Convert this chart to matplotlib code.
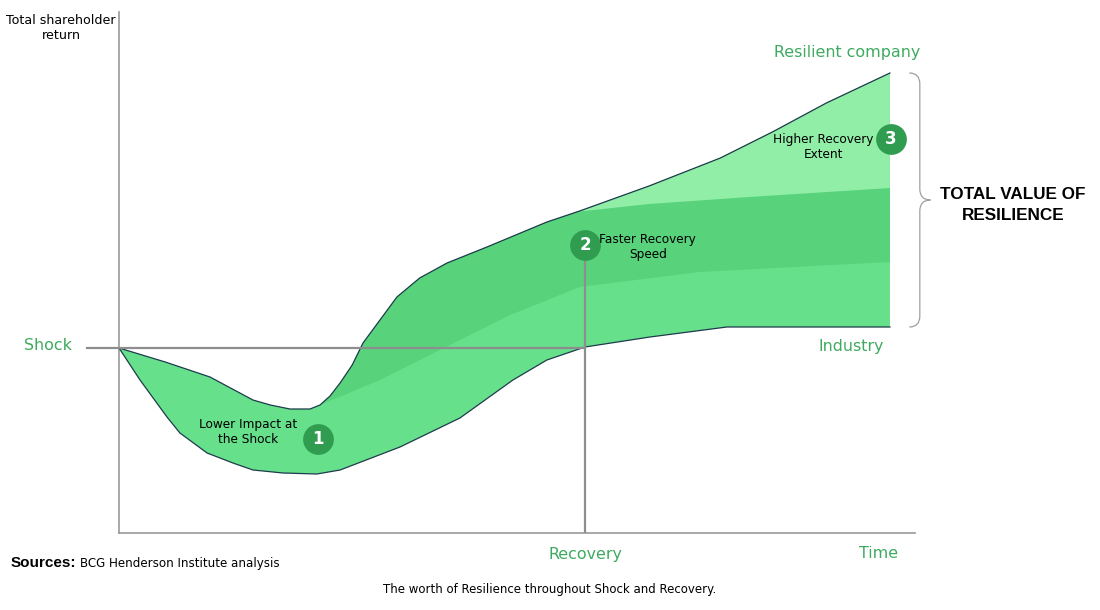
import numpy as np
import matplotlib
matplotlib.use('Agg')
import matplotlib.pyplot as plt
from matplotlib.path import Path
from matplotlib.patches import PathPatch

plt.rcParams['font.family'] = ['DejaVu Sans']

# time since shock (arbitrary units) vs total shareholder return index (shock = 100)
res_t = [0, 2.4, 4.72, 6.95, 7.85, 8.87, 9.91, 10.43, 10.95, 11.47, 12.1, 12.66,
         13.54, 14.42, 15.6, 17.02, 19.09, 22.2, 23.9, 27.5, 31.2, 33.9, 36.7, 40]
res_v = [100, 97.2, 94.2, 89.6, 88.6, 87.8, 87.8, 88.6, 90.4, 93.0, 96.6, 101.0,
         105.6, 110.2, 114.0, 117.0, 120.2, 125.2, 127.4, 132.4, 138.0, 143.2,
         149.0, 155]

ind_t = [0, 1.09, 2.49, 3.16, 4.57, 5.91, 6.95, 8.51, 10.27, 11.47, 14.58,
         17.69, 20.44, 22.2, 24.18, 27.55, 31.54, 40]
ind_v = [100, 93.6, 86.2, 83.0, 79.0, 77.0, 75.6, 75.0, 74.8, 75.6, 80.2,
         86.0, 93.6, 97.6, 100.2, 102.2, 104.2, 104.2]

# boundary between "lower impact" and "faster recovery" bands
speed_t = [10.43, 13.54, 16.65, 20.3, 23.9, 30.1, 40]
speed_v = [88.6, 93.6, 99.6, 106.6, 112.2, 115.2, 117.2]

# boundary between "faster recovery" and "higher extent" bands
extent_t = [23.66, 27.5, 32.7, 40]
extent_v = [127.2, 128.8, 130.2, 132]

shock_level = 100
recovery_t = 24.18

steps = ['1', '2', '3']
step_t = [10.32, 24.18, 40.05]
step_v = [81.8, 120.6, 141.8]

GREEN_TXT = '#3daa5f'
CIRCLE = '#2f9c4f'
OUTLINE = '#1d3b4c'
AXIS_GRAY = '#8e8e8e'

fig = plt.figure(figsize=(11, 6.1), dpi=100)
ax = fig.add_axes([119 / 1100, 77 / 610, 796 / 1100, 521 / 610])
ax.set_xlim(0, 41.3)
ax.set_ylim(63, 167.2)

rt, rv = np.array(res_t), np.array(res_v)
it, iv = np.array(ind_t), np.array(ind_v)

# base band: between industry and resilient company
ax.fill(np.concatenate([rt, it[::-1]]), np.concatenate([rv, iv[::-1]]),
        color='#66e08a', lw=0, zorder=1)

# faster recovery band
m = rt > speed_t[0]
ax.fill(np.concatenate([speed_t, rt[m][::-1]]),
        np.concatenate([speed_v, rv[m][::-1]]),
        color='#58d37b', lw=0, zorder=2)

# higher recovery extent band
m = rt > extent_t[0]
ax.fill(np.concatenate([extent_t, rt[m][::-1]]),
        np.concatenate([extent_v, rv[m][::-1]]),
        color='#91eea7', lw=0, zorder=3)

ax.plot(res_t, res_v, color=OUTLINE, lw=0.9, zorder=4)
ax.plot(ind_t, ind_v, color=OUTLINE, lw=0.9, zorder=4)

# shock and recovery guide lines
ax.plot([-1.66, recovery_t], [shock_level, shock_level], color=AXIS_GRAY,
        lw=1.6, zorder=5, clip_on=False)
ax.plot([recovery_t, recovery_t], [63, step_v[1]], color=AXIS_GRAY,
        lw=1.6, zorder=5)

for s in ['top', 'right']:
    ax.spines[s].set_visible(False)
for s in ['left', 'bottom']:
    ax.spines[s].set_color('#999999')
    ax.spines[s].set_linewidth(1.2)
ax.set_xticks([])
ax.set_yticks([])

ax.scatter(step_t, step_v, s=490, color=CIRCLE, zorder=6, clip_on=False,
           linewidths=0)
for lab, x, y in zip(steps, step_t, step_v):
    ax.text(x, y, lab, color='white', fontsize=12, fontweight='bold',
            ha='center', va='center', zorder=7)

ax.text(6.69, 83.2, 'Lower Impact at\nthe Shock', fontsize=8.7, ha='center',
        va='center', linespacing=1.15, zorder=7)
ax.text(27.44, 120.2, 'Faster Recovery\nSpeed', fontsize=8.7, ha='center',
        va='center', linespacing=1.15, zorder=7)
ax.text(36.55, 140.2, 'Higher Recovery\nExtent', fontsize=8.7, ha='center',
        va='center', linespacing=1.15, zorder=7)

# curly brace for total value of resilience
top, bot = 155, 104.2
mid = (top + bot) / 2
x0, x1, x2 = 41.0, 41.55, 42.1
r = 2.2
verts = [(x0, top), (x1, top), (x1, top - r),
         (x1, mid + r), (x1, mid), (x2, mid),
         (x1, mid), (x1, mid - r),
         (x1, bot + r), (x1, bot), (x0, bot)]
codes = [Path.MOVETO, Path.CURVE3, Path.CURVE3,
         Path.LINETO, Path.CURVE3, Path.CURVE3,
         Path.CURVE3, Path.CURVE3,
         Path.LINETO, Path.CURVE3, Path.CURVE3]
ax.add_patch(PathPatch(Path(verts, codes), fill=False, ec='#a0a0a0', lw=0.9,
                       clip_on=False))


def ftext(px, py, s, **kw):
    fig.text(px / 1100, 1 - py / 610, s, **kw)


ftext(61, 28, 'Total shareholder\nreturn', fontsize=9.1, ha='center',
      va='center', linespacing=1.2)
ftext(847, 53, 'Resilient company', fontsize=11.4, color=GREEN_TXT,
      ha='center', va='center')
ftext(48, 345, 'Shock', fontsize=11.4, color=GREEN_TXT, ha='center',
      va='center')
ftext(851, 347, 'Industry', fontsize=11.4, color=GREEN_TXT, ha='center',
      va='center')
ftext(585, 554, 'Recovery', fontsize=11.4, color=GREEN_TXT, ha='center',
      va='center')
ftext(879, 554, 'Time', fontsize=11.4, color=GREEN_TXT, ha='center',
      va='center')
ftext(1013, 205, 'TOTAL VALUE OF\nRESILIENCE', fontsize=12.3,
      family='Liberation Sans', fontweight='bold', ha='center', va='center',
      linespacing=1.45)
ftext(11, 563, 'Sources:', fontsize=11, fontweight='bold', ha='left',
      va='center', family='Liberation Sans')
ftext(80, 564, 'BCG Henderson Institute analysis', fontsize=8.6, ha='left',
      va='center')
ftext(550, 590, 'The worth of Resilience throughout Shock and Recovery.',
      fontsize=8.5, ha='center', va='center')

fig.savefig('out.png', dpi=100)
